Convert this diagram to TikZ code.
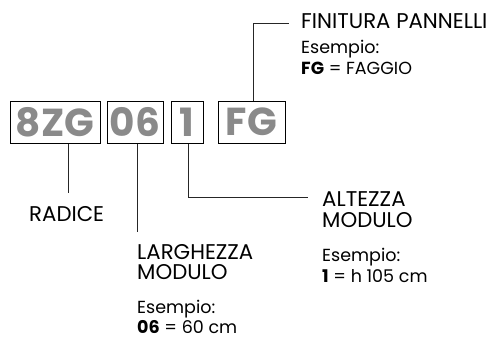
\documentclass[tikz,border=0pt]{standalone}
\usepackage{fontspec}
\setmainfont{Poppins}
\begin{document}
\begin{tikzpicture}[x=1pt,y=-1pt,
  code/.style={draw=black,line width=1pt,inner sep=0pt,minimum height=42pt,
    font=\fontsize{39}{39}\selectfont\bfseries,text=codegray},
  lbl/.style={anchor=base west,inner sep=0pt,font=\fontsize{21.3}{21.3}\selectfont},
  ex/.style={anchor=base west,inner sep=0pt,font=\fontsize{17.5}{17.5}\selectfont,align=left},
  conn/.style={draw=black!85,line width=0.8pt}]
\definecolor{codegray}{HTML}{8A8A8A}
\useasboundingbox (0,0) rectangle (491,338);
% code boxes
\node[code,minimum width=90pt] (b1) at (55,122) {8ZG};
\node[code,minimum width=56pt] (b2) at (135,122) {06};
\node[code,minimum width=32pt] (b3) at (187,122) {1};
\node[code,minimum width=67pt] (b4) at (251.5,122) {FG};
% labels
\node[lbl] (fin) at (301,28) {FINITURA PANNELLI};
\node[ex] (finex) at (301,53) {Esempio:};
\node[ex] (finex2) at (301,74) {\textbf{FG} = FAGGIO};
\node[lbl] (rad) at (29,221) {RADICE};
\node[lbl] (lar) at (137,259) {LARGHEZZA};
\node[lbl] (larm) at (137,279) {MODULO};
\node[ex] (larex) at (137,313) {Esempio:};
\node[ex] (larex2) at (137,333) {\textbf{06} = 60 cm};
\node[lbl] (alt) at (322,206) {ALTEZZA};
\node[lbl] (altm) at (322,227) {MODULO};
\node[ex] (altex) at (322,261) {Esempio:};
\node[ex] (altex2) at (322,282) {\textbf{1} = h 105 cm};
% connectors
\coordinate (c4) at (253,23);
\coordinate (c4e) at (289,23);
\draw[conn] (b4.north -| c4) -- (c4) -- (c4e);
\coordinate (c1) at (68,193);
\draw[conn] (b1.south -| c1) -- (c1);
\coordinate (c2) at (137,232);
\draw[conn] (b2.south -| c2) -- (c2);
\coordinate (c3) at (188,197);
\coordinate (c3e) at (308,197);
\draw[conn] (b3.south -| c3) -- (c3) -- (c3e);
\end{tikzpicture}
\end{document}
